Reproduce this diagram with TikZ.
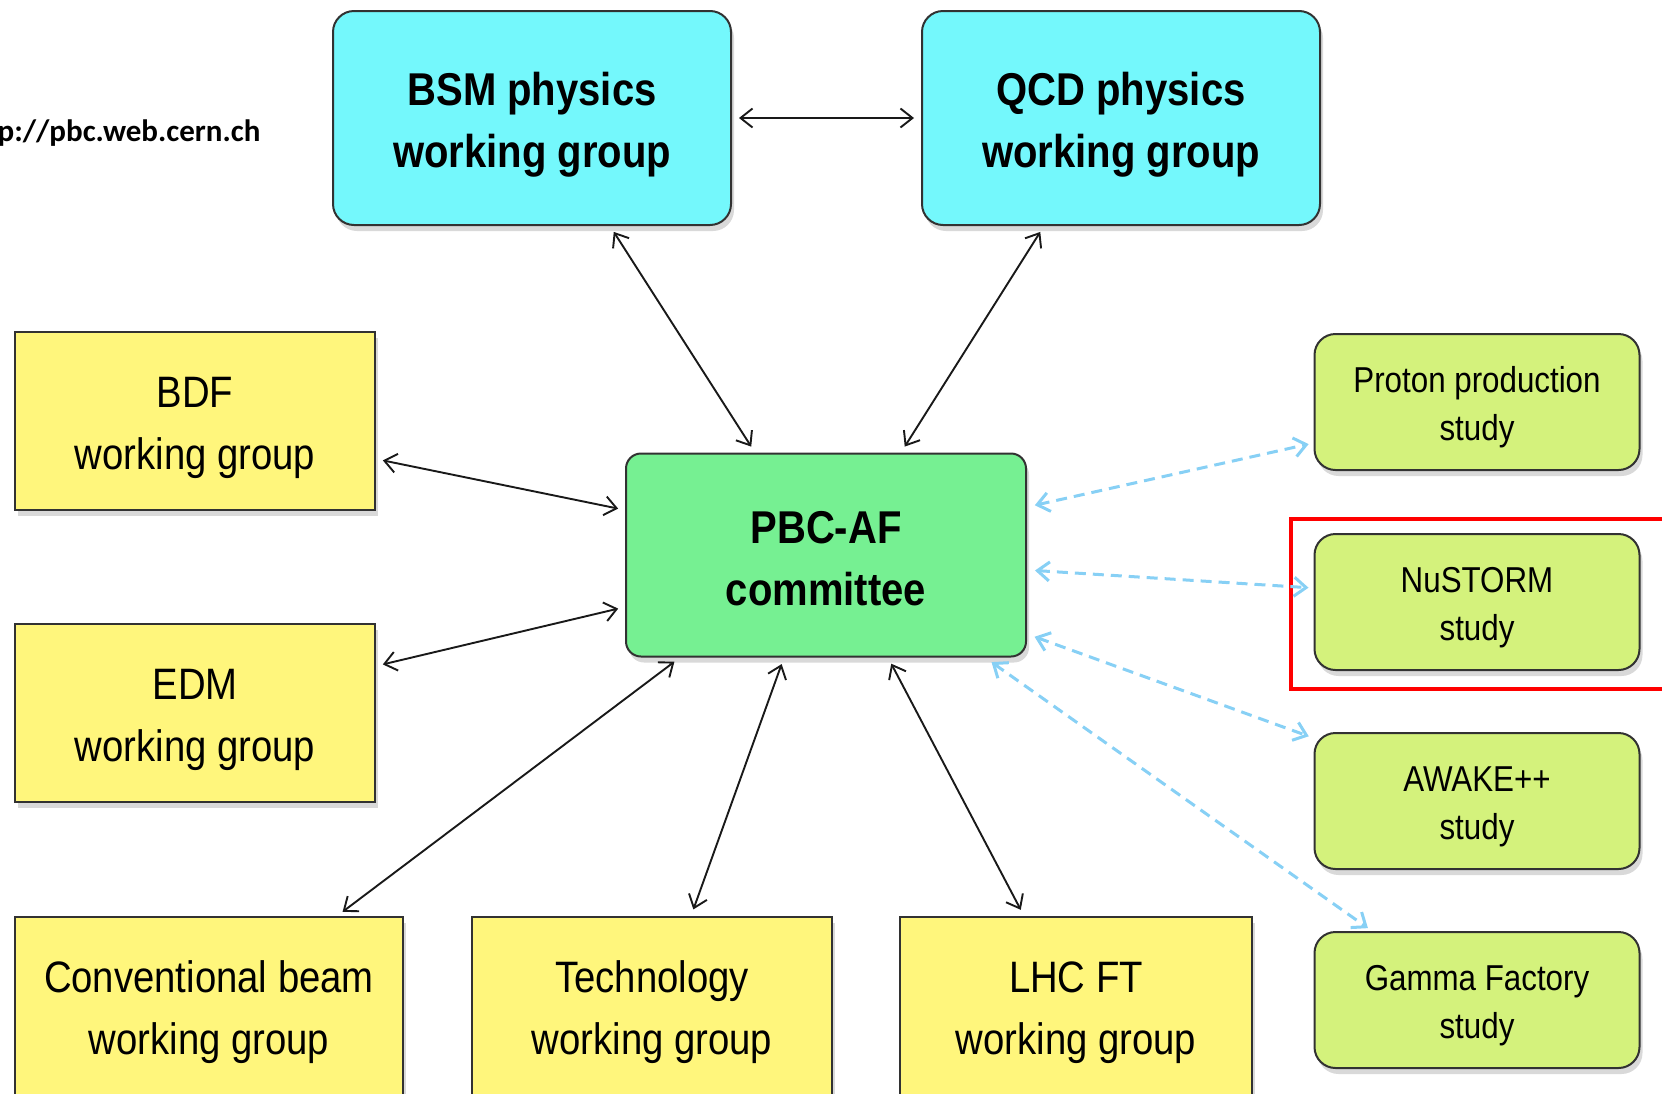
\documentclass[tikz,border=0pt]{standalone}
\usepackage{fontspec}
\setmainfont{Liberation Sans}[FakeStretch=0.87]
\newfontfamily\urlfont{Carlito}
\usetikzlibrary{arrows.meta,shadows}
\definecolor{wgcyan}{RGB}{116,248,252}
\definecolor{afgreen}{RGB}{118,240,146}
\definecolor{stlime}{RGB}{212,242,124}
\definecolor{wgyellow}{RGB}{255,246,124}
\definecolor{boxline}{RGB}{50,50,50}
\definecolor{dashblue}{RGB}{135,208,245}
\newcommand{\topgap}{\rule{0pt}{1em}}
\begin{document}
\begin{tikzpicture}[x=1pt, y=-1pt,
    box/.style={draw=boxline, line width=2pt, inner sep=0pt, align=center,
        drop shadow={shadow xshift=3pt, shadow yshift=-6pt, opacity=0.3}},
    physbox/.style={box, rounded corners=21pt, fill=wgcyan, minimum width=398pt,
        minimum height=214pt, font=\fontsize{46}{62}\selectfont\bfseries},
    wgbox/.style={box, fill=wgyellow, minimum width=360pt, minimum height=178pt,
        font=\fontsize{44}{62}\selectfont},
    studybox/.style={box, rounded corners=21pt, fill=stlime, minimum width=325pt,
        minimum height=136pt, font=\fontsize{36}{48}\selectfont},
    tip/.tip={Straight Barb[length=12pt,width=19pt]},
    link/.style={line width=1.9pt, draw=black!90, tip-tip, shorten <=7pt, shorten >=7pt},
    studylink/.style={line width=3pt, draw=dashblue, dash pattern=on 11pt off 7pt,
        tip-tip, shorten <=8pt, shorten >=5pt}]
    \useasboundingbox (0,0) rectangle (1662,1093);
    \node[anchor=east, font=\urlfont\fontsize{31}{36}\selectfont\bfseries] (url) at (264,133) {p://pbc.web.cern.ch};
    % physics working groups
    \node[physbox] (bsm) at (532,118) {\topgap BSM physics\\working group};
    \node[physbox] (qcd) at (1121,118) {\topgap QCD physics\\working group};
    % committee
    \node[box, rounded corners=15pt, fill=afgreen, minimum width=400pt, minimum height=203pt,
        font=\fontsize{46}{62}\selectfont\bfseries] (pbc) at (826,555) {\rule{0pt}{0.85em}PBC-AF\\committee};
    % accelerator working groups
    \node[wgbox] (bdf) at (195,421) {\topgap BDF\\working group};
    \node[wgbox] (edm) at (195,713) {\topgap EDM\\working group};
    \node[wgbox, minimum width=388pt] (conv) at (209,1006) {\topgap Conventional beam\\working group};
    \node[wgbox] (tech) at (652,1006) {\topgap Technology\\working group};
    \node[wgbox, minimum width=352pt] (lhc) at (1076,1006) {\topgap LHC FT\\working group};
    % studies
    \node[studybox] (proton) at (1477,402) {\topgap Proton production\\study};
    \node[studybox] (nustorm) at (1477,602) {\topgap NuSTORM\\study};
    \node[studybox] (awake) at (1477,801) {\topgap AWAKE++\\study};
    \node[studybox] (gamma) at (1477,1000) {\topgap Gamma Factory\\study};
    \draw[red, line width=4pt] (1291,519) rectangle (1668,689);
    % connections
    \draw[link] (bsm.east) -- (qcd.west);
    \draw[link] ([xshift=78pt]bsm.south) -- ([xshift=-71pt]pbc.north);
    \draw[link] ([xshift=-77pt]qcd.south) -- ([xshift=75pt]pbc.north);
    \draw[link] ([yshift=-38pt]bdf.east) -- ([yshift=45pt]pbc.west);
    \draw[link] ([yshift=47pt]edm.east) -- ([yshift=-52pt]pbc.west);
    \draw[link] ([xshift=128pt]conv.north) -- ([xshift=-146pt]pbc.south);
    \draw[link] ([xshift=39pt]tech.north) -- ([xshift=-42pt]pbc.south);
    \draw[link] ([xshift=-52pt]lhc.north) -- ([xshift=62pt]pbc.south);
    \draw[studylink] ([yshift=48pt]pbc.east) -- ([yshift=-41pt]proton.west);
    \draw[studylink] ([yshift=-15pt]pbc.east) -- ([yshift=14pt]nustorm.west);
    \draw[studylink] ([yshift=-79pt]pbc.east) -- ([yshift=63pt]awake.west);
    \draw[studylink] ([xshift=-42pt]pbc.south east) -- ([xshift=-105pt]gamma.north);
\end{tikzpicture}
\end{document}
